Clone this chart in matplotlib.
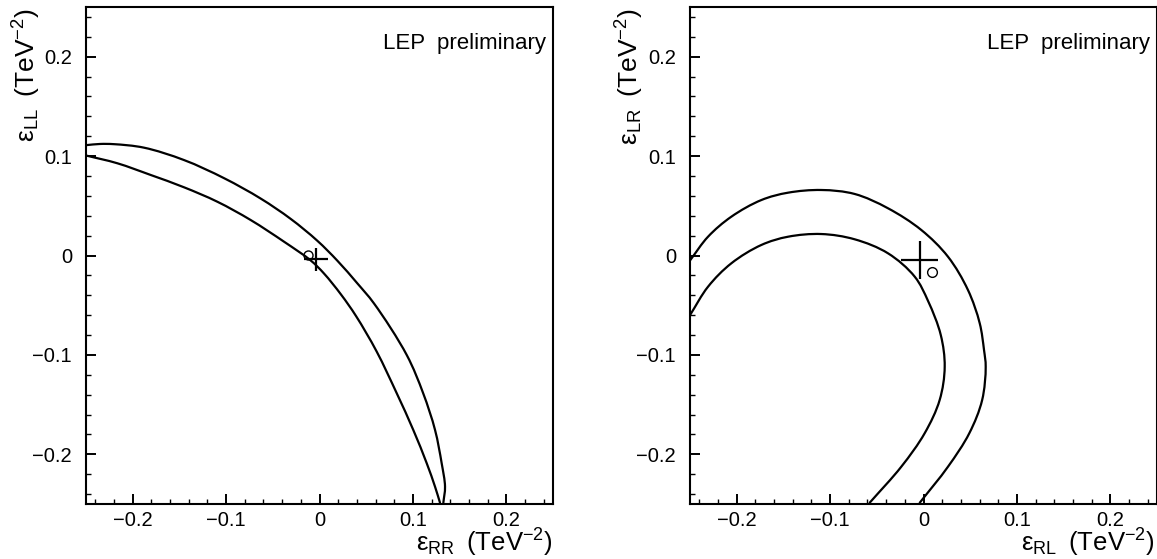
import matplotlib
matplotlib.use("Agg")
import matplotlib.pyplot as plt
from matplotlib.ticker import MultipleLocator, FixedLocator
from matplotlib.path import Path
from matplotlib.patches import PathPatch

plt.rcParams['font.family'] = ['Liberation Sans', 'DejaVu Sans']
plt.rcParams['mathtext.fontset'] = 'custom'
plt.rcParams['mathtext.rm'] = 'Liberation Sans'
plt.rcParams['mathtext.it'] = 'Liberation Sans:italic'
plt.rcParams['axes.unicode_minus'] = True

# ---------------- data ----------------
# Left panel: eps_RR (x) vs eps_LL (y)
left_outer_x = [-0.250, -0.235, -0.220, -0.188, -0.145, -0.102, -0.063, -0.0308, -0.0024,
                0.0191, 0.0405, 0.0584, 0.0934, 0.111, 0.1237, 0.1308, 0.1344, 0.1326]
left_outer_y = [0.111, 0.1122, 0.112, 0.1085, 0.096, 0.0777, 0.0573, 0.0368, 0.0149,
                -0.0052, -0.0280, -0.0483, -0.1001, -0.1386, -0.1755, -0.209, -0.2326, -0.2487]
left_inner_x = [-0.250, -0.2165, -0.1807, -0.145, -0.1094, -0.0737, -0.038, -0.0094, 0.0048,
                0.023, 0.0391, 0.0612, 0.0827, 0.1004, 0.1148, 0.1237, 0.129]
left_inner_y = [0.1006, 0.0928, 0.081, 0.0686, 0.0541, 0.0357, 0.0139, -0.0050, -0.0181,
                -0.0392, -0.0609, -0.0966, -0.1386, -0.1755, -0.209, -0.2326, -0.2487]
left_fit = (-0.0037, -0.0037)
left_fit_err = (0.0128, 0.0116)
left_circle = (-0.0123, 0.0005)

# Right panel: eps_RL (x) vs eps_LR (y)
right_outer_x = [-0.250, -0.2307, -0.2058, -0.1736, -0.145, -0.1094, -0.0737, -0.038, -0.0024,
                 0.0262, 0.0476, 0.0602, 0.0648, 0.0666, 0.0628, 0.0490, 0.0262, -0.004]
right_outer_y = [-0.005, 0.0189, 0.039, 0.0558, 0.0632, 0.0659, 0.0619, 0.0475, 0.0257,
                 -0.0012, -0.0347, -0.0682, -0.0951, -0.1119, -0.1454, -0.1789, -0.2125, -0.2487]
right_inner_x = [-0.250, -0.2307, -0.2058, -0.1736, -0.145, -0.1094, -0.0737, -0.038, -0.0094,
                 0.005, 0.0185, 0.0227, 0.0173, 0.0012, -0.0238, -0.0576]
right_inner_y = [-0.060, -0.0314, -0.0079, 0.0106, 0.0189, 0.0216, 0.0163, 0.0022, -0.0213,
                 -0.046, -0.080, -0.1119, -0.1454, -0.1789, -0.2125, -0.2487]
right_fit = (-0.0041, -0.0045)
right_fit_err = (0.0196, 0.0194)
right_circle = (0.0088, -0.0166)

tick_values = [-0.2, -0.1, 0.0, 0.1, 0.2]
tick_labels = ['\u22120.2', '\u22120.1', '0', '0.1', '0.2']

# ---------------- figure ----------------
W, H = 1157, 559
fig = plt.figure(figsize=(W / 100, H / 100), dpi=100)


def px_axes(x0, y_top, w, h):
    return fig.add_axes([x0 / W, (H - y_top - h) / H, w / W, h / H])


def smooth_path(xs, ys, sx=934.0, sy=994.0):
    """Centripetal Catmull-Rom curve through the read points, as Bezier segments."""
    P = [(x * sx, y * sy) for x, y in zip(xs, ys)]
    n = len(P)
    first = (2 * P[0][0] - P[1][0], 2 * P[0][1] - P[1][1])
    last = (2 * P[-1][0] - P[-2][0], 2 * P[-1][1] - P[-2][1])
    Q = [first] + P + [last]

    def dist(a, b):
        return ((a[0] - b[0]) ** 2 + (a[1] - b[1]) ** 2) ** 0.5

    verts = [P[0]]
    codes = [Path.MOVETO]
    for i in range(1, n):
        p0, p1, p2, p3 = Q[i - 1], Q[i], Q[i + 1], Q[i + 2]
        d1 = max(dist(p0, p1), 1e-9) ** 0.5
        d2 = max(dist(p1, p2), 1e-9) ** 0.5
        d3 = max(dist(p2, p3), 1e-9) ** 0.5
        b1 = tuple((d1 * d1 * p2[k] - d2 * d2 * p0[k] + (2 * d1 * d1 + 3 * d1 * d2 + d2 * d2) * p1[k])
                   / (3 * d1 * (d1 + d2)) for k in range(2))
        b2 = tuple((d3 * d3 * p1[k] - d2 * d2 * p3[k] + (2 * d3 * d3 + 3 * d3 * d2 + d2 * d2) * p2[k])
                   / (3 * d3 * (d3 + d2)) for k in range(2))
        verts += [b1, b2, p2]
        codes += [Path.CURVE4] * 3
    verts = [(vx / sx, vy / sy) for vx, vy in verts]
    return Path(verts, codes)


axL = px_axes(86, 7, 467, 497)
axR = px_axes(690, 7, 467, 497)

panels = [
    (axL, left_outer_x, left_outer_y, left_inner_x, left_inner_y, left_fit, left_fit_err, left_circle, 6.5,
     r'$\mathrm{\varepsilon}_{\mathrm{RR}}\;\;\mathrm{(TeV}^{-2}\mathrm{)}$',
     r'$\mathrm{\varepsilon}_{\mathrm{LL}}\;\;\mathrm{(TeV}^{-2}\mathrm{)}$', 553, 27),
    (axR, right_outer_x, right_outer_y, right_inner_x, right_inner_y, right_fit, right_fit_err, right_circle, 7.0,
     r'$\mathrm{\varepsilon}_{\mathrm{RL}}\;\;\mathrm{(TeV}^{-2}\mathrm{)}$',
     r'$\mathrm{\varepsilon}_{\mathrm{LR}}\;\;\mathrm{(TeV}^{-2}\mathrm{)}$', 1155, 630),
]

for ax, ox, oy, ix, iy, fit, ferr, circ, cms, xlab, ylab, xlab_right, ylab_x in panels:
    for xs, ys in ((ox, oy), (ix, iy)):
        ax.add_patch(PathPatch(smooth_path(xs, ys), facecolor='none', edgecolor='black',
                               lw=1.6, capstyle='round', joinstyle='round'))
    ax.errorbar([fit[0]], [fit[1]], xerr=[ferr[0]], yerr=[ferr[1]], fmt='none',
                ecolor='black', elinewidth=1.6, capsize=0)
    ax.plot([circ[0]], [circ[1]], marker='o', ms=cms, mfc='none', mec='black', mew=1.0)

    ax.set_xlim(-0.25, 0.25)
    ax.set_ylim(-0.25, 0.25)
    ax.xaxis.set_major_locator(FixedLocator(tick_values))
    ax.yaxis.set_major_locator(FixedLocator(tick_values))
    ax.set_xticklabels(tick_labels)
    ax.set_yticklabels(tick_labels)
    ax.xaxis.set_minor_locator(MultipleLocator(0.02))
    ax.yaxis.set_minor_locator(MultipleLocator(0.02))
    ax.tick_params(which='both', direction='in', top=False, right=False, colors='black')
    ax.tick_params(which='major', length=7, width=1.4, labelsize=14.5)
    ax.tick_params(which='minor', length=3.6, width=1.0)
    ax.tick_params(axis='y', which='major', pad=10)
    ax.tick_params(axis='x', which='major', pad=5)
    for sp in ax.spines.values():
        sp.set_linewidth(1.5)

    ax.text(0.985, 0.915, 'LEP  preliminary', transform=ax.transAxes, ha='right',
            va='baseline', fontsize=16)

    fig.text(xlab_right / W, 0 / H, xlab, ha='right', va='bottom', fontsize=18.5)
    fig.text(ylab_x / W, (H - 8) / H, ylab, ha='center', va='top', rotation=90, fontsize=19)

fig.savefig('out.png', dpi=100)
